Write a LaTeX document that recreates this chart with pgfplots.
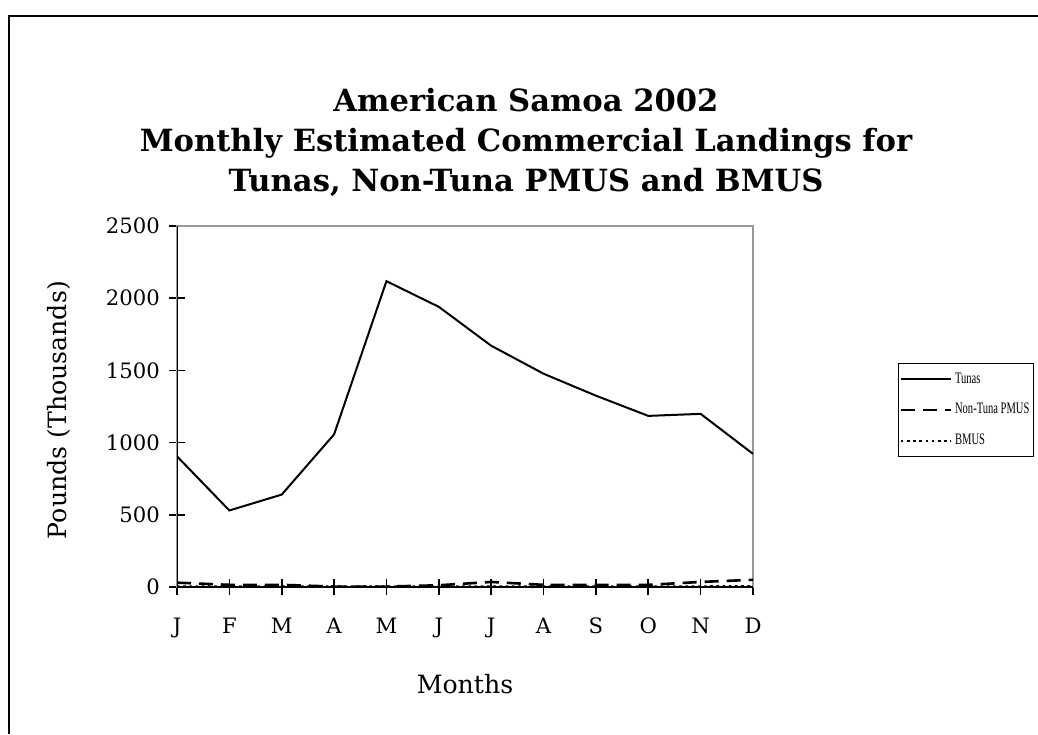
\documentclass[border=0pt]{standalone}
\usepackage{fontspec}
\setmainfont{DejaVu Serif}
\newfontfamily\legendfont{Liberation Serif}[FakeStretch=0.66]
\usepackage{pgfplots}
\pgfplotsset{compat=1.18}

\pgfplotstableread{
m tunas nontuna bmus
0  905  30 3
1  530  15 3
2  640  15 3
3  1057 3  2
4  2118 3  2
5  1940 12 3
6  1671 35 3
7  1477 15 3
8  1325 15 3
9  1185 15 3
10 1199 35 3
11 922  50 4
}\landings

\begin{document}
\begin{tikzpicture}
\useasboundingbox (0,0) rectangle (519pt,367pt);
% outer chart frame (only top and left edges fall inside the image)
\draw[line width=1.2pt] (4.5pt,0) -- (4.5pt,359pt) -- (519pt,359pt);
\node[font=\bfseries\fontsize{15.3}{20}\selectfont, align=center] at (263pt,296pt)
  {American Samoa 2002\\Monthly Estimated Commercial Landings for\\Tunas, Non-Tuna PMUS and BMUS};
\begin{axis}[
  at={(88.5pt,73.5pt)}, anchor=south west,
  scale only axis, width=288pt, height=180.5pt,
  xmin=0, xmax=11, ymin=0, ymax=2500,
  xtick=data,
  xticklabels={J,F,M,A,M,J,J,A,S,O,N,D},
  ytick={0,500,...,2500},
  axis line style={gray!80, line width=0.6pt},
  tick style={black, line width=0.8pt},
  tick align=center, major tick length=8pt,
  xtick pos=bottom, ytick pos=left,
  /pgf/number format/assume math mode=true,
  scaled y ticks=false,
  yticklabel style={/pgf/number format/1000 sep={}, font=\fontsize{10.6}{12}\selectfont, xshift=-1pt},
  xticklabel style={font=\fontsize{10.6}{12}\selectfont, yshift=-8pt},
  label style={font=\fontsize{12.6}{14}\selectfont},
  xlabel={Months},
  ylabel={Pounds (Thousands)},
  xlabel style={at={(axis description cs:0.5,-0.2687)}, anchor=center},
  ylabel style={at={(axis description cs:-0.2049,0.49)}, anchor=center},
  legend style={at={(1.488,0.6205)}, anchor=north east,
    draw=black, line width=0.6pt, font=\legendfont\fontsize{8}{9}\selectfont,
    inner xsep=0.5pt, inner ysep=2.5pt, row sep=4.6pt, cells={anchor=west},
    nodes={inner xsep=1.5pt}},
  legend image code/.code={\draw[#1] (0pt,0pt) -- (25pt,0pt);},
]
\draw[black, line width=1pt] (rel axis cs:0,0) -- (rel axis cs:0,1);
\draw[black, line width=1pt] (rel axis cs:0,0) -- (rel axis cs:1,0);
\addplot[black, line width=1pt] table[x=m, y=tunas] {\landings};
\addplot[black, line width=1.3pt, dash pattern=on 7pt off 4pt] table[x=m, y=nontuna] {\landings};
\addplot[black, line width=1.3pt, dash pattern=on 1.3pt off 1.8pt] table[x=m, y=bmus] {\landings};
\legend{Tunas,Non-Tuna PMUS,BMUS}
\end{axis}
\end{tikzpicture}
\end{document}
